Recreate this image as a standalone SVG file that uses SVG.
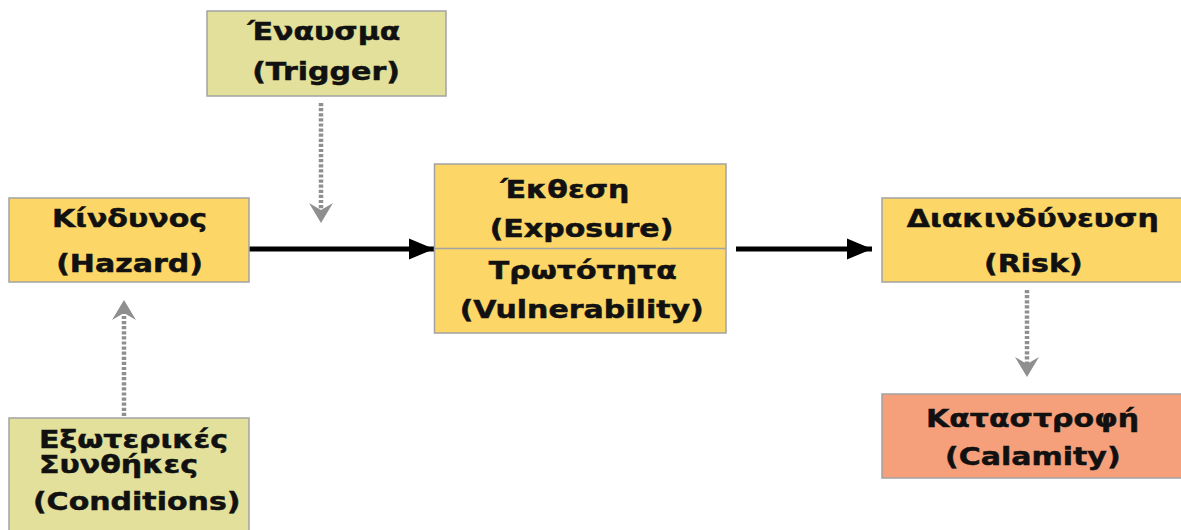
<svg xmlns="http://www.w3.org/2000/svg" width="1181" height="530" viewBox="0 0 1181 530">
<style>
.box{stroke:#a3a3a3;stroke-width:1.5}
.y{fill:#fcd667}
.p{fill:#e2e09a}
.r{fill:#f5a07b}
text{font-family:"DejaVu Sans","Liberation Sans",sans-serif;font-weight:bold;font-size:25px;fill:#111;stroke:#111;stroke-width:0.5;text-anchor:middle}
text.l{text-anchor:start}
.solid{stroke:#000;stroke-width:5;fill:none}
.dot{stroke:#8f8f8f;stroke-width:4.5;stroke-dasharray:3.2 1.9;fill:none}
</style>
<defs>
<marker id="tri" viewBox="0 -11 25 22" markerWidth="25" markerHeight="22" refX="25" refY="0" orient="auto" markerUnits="userSpaceOnUse">
<path d="M0,-10.5 L25,0 L0,10.5 z" fill="#000"/>
</marker>
<marker id="chev" viewBox="0 -12 20 24" markerWidth="20" markerHeight="24" refX="7" refY="0" orient="auto" markerUnits="userSpaceOnUse">
<path d="M0,-12 L20,0 L0,12 L7,0 z" fill="#8f8f8f"/>
</marker>
</defs>
<rect width="1181" height="530" fill="#fff"/>
<g id="connectors">
<path class="solid" d="M249,249 H434" marker-end="url(#tri)"/>
<path class="solid" d="M736,249 H872" marker-end="url(#tri)"/>
<path class="dot" d="M321,103 V210" marker-end="url(#chev)"/>
<path class="dot" d="M124,416 V313" marker-end="url(#chev)"/>
<path class="dot" d="M1027,290 V364" marker-end="url(#chev)"/>
</g>
<g id="trigger">
<rect class="box p" x="207" y="11" width="239" height="85"/>
<text transform="translate(324 40) scale(1.2 1)">Έναυσμα</text>
<text transform="translate(326 80) scale(1.2 1)">(Trigger)</text>
</g>
<g id="hazard">
<rect class="box y" x="9" y="198" width="240" height="84"/>
<text transform="translate(129.5 227) scale(1.2 1)">Κίνδυνος</text>
<text transform="translate(129.5 272) scale(1.2 1)">(Hazard)</text>
</g>
<g id="exposure">
<rect class="box y" x="434.5" y="164" width="291.5" height="169"/>
<line x1="434.5" y1="248.5" x2="726" y2="248.5" stroke="#a3a3a3" stroke-width="1.5"/>
<text transform="translate(565 198) scale(1.2 1)">Έκθεση</text>
<text transform="translate(581.5 237) scale(1.2 1)">(Exposure)</text>
<text transform="translate(582.8 279) scale(1.2 1)">Τρωτότητα</text>
<text transform="translate(581.7 318) scale(1.2 1)">(Vulnerability)</text>
</g>
<g id="risk">
<rect class="box y" x="882" y="198" width="302" height="84"/>
<text transform="translate(1032.8 227) scale(1.2 1)">Διακινδύνευση</text>
<text transform="translate(1033.3 272) scale(1.2 1)">(Risk)</text>
</g>
<g id="conditions">
<rect class="box p" x="9" y="418" width="240" height="120"/>
<text class="l" transform="translate(39 448) scale(1.2 1)">Εξωτερικές</text>
<text class="l" transform="translate(39 473) scale(1.2 1)">Συνθήκες</text>
<text transform="translate(136.7 510) scale(1.2 1)">(Conditions)</text>
</g>
<g id="calamity">
<rect class="box r" x="882" y="394" width="302" height="84"/>
<text transform="translate(1032.5 427) scale(1.2 1)">Καταστροφή</text>
<text transform="translate(1032.8 465) scale(1.2 1)">(Calamity)</text>
</g>
</svg>
